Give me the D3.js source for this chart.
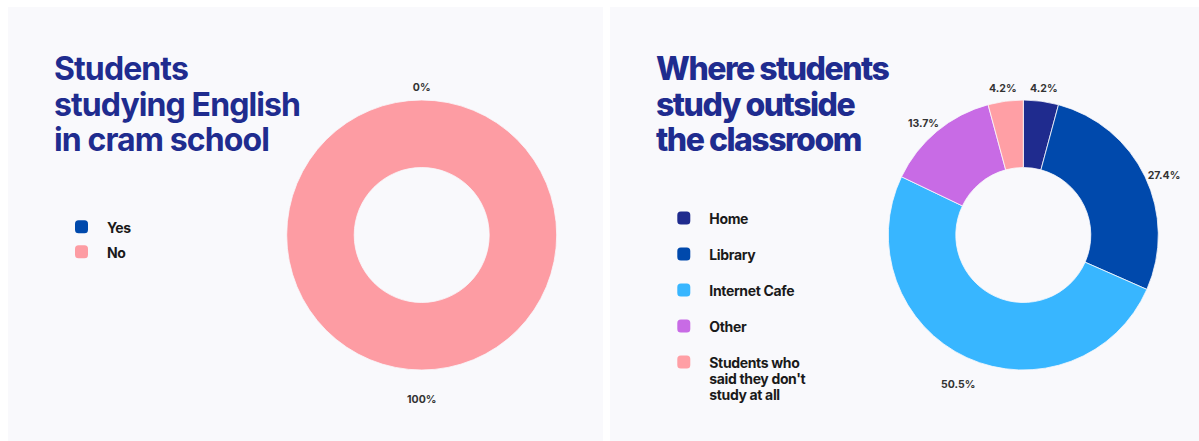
<!DOCTYPE html>
<html>
<head>
<meta charset="utf-8">
<script src="https://cdn.jsdelivr.net/npm/d3@7"></script>
<style>
  html, body { margin: 0; padding: 0; background: #ffffff; }
  svg { display: block; }
</style>
</head>
<body>
<svg id="chart" width="1199" height="441"></svg>
<script>
// Survey results: cram school attendance
const cramCategories = ["Yes", "No"];
const cramValues = [0, 100];
const cramColors = ["#0049ac", "#fd9ca3"];
const cramTitle = ["Students", "studying English", "in cram school"];

// Survey results: study location outside class
const placeCategories = ["Home", "Library", "Internet Cafe", "Other", "Students who said they don't study at all"];
const placeLegendLines = [["Home"], ["Library"], ["Internet Cafe"], ["Other"], ["Students who", "said they don't", "study at all"]];
const placeValues = [4.2, 27.4, 50.5, 13.7, 4.2];
const placeColors = ["#1f2b8e", "#0049ac", "#38b6ff", "#c86be5", "#ff9fa5"];
const placeTitle = ["Where students", "study outside", "the classroom"];

const svg = d3.select("#chart");
const W = 1199, H = 441;

const panels = [
  {
    x: 8, w: 595,
    title: cramTitle, titleWeight: 700, titleSpacing: -0.9,
    cats: cramCategories, lines: cramCategories.map(d => [d]), values: cramValues, colors: cramColors,
    legendX: 75, legendY: 226.7, legendStep: 25,
    cx: 421.7, fmt: v => d3.format(".0f")(v) + "%"
  },
  {
    x: 610, w: 589,
    title: placeTitle, titleWeight: 800, titleSpacing: -1.5,
    cats: placeCategories, lines: placeLegendLines, values: placeValues, colors: placeColors,
    legendX: 677.3, legendY: 218, legendStep: 36,
    cx: 1023.3, fmt: v => d3.format(".1f")(v) + "%"
  }
];

const outerR = 135, innerR = 67.5, labelR = 156, cy = 235;

panels.forEach(p => {
  const g = svg.append("g");

  g.append("rect")
    .attr("x", p.x).attr("y", 7)
    .attr("width", p.w).attr("height", H - 7)
    .attr("fill", "#f9f9fc");

  // Title
  const title = g.append("text")
    .attr("x", p.x + 46)
    .attr("y", 80)
    .attr("font-family", "Inter, 'Noto Sans', sans-serif")
    .attr("font-weight", p.titleWeight)
    .attr("font-size", 32)
    .attr("letter-spacing", p.titleSpacing)
    .attr("fill", "#1f2c8f");
  title.selectAll("tspan")
    .data(p.title)
    .join("tspan")
    .attr("x", p.x + 46)
    .attr("dy", (d, i) => i === 0 ? 0 : 35.5)
    .text(d => d);

  // Legend
  const leg = g.append("g");
  const items = leg.selectAll("g")
    .data(p.cats.map((c, i) => ({ c, i })))
    .join("g")
    .attr("transform", d => `translate(${p.legendX},${p.legendY + d.i * p.legendStep})`);
  items.append("rect")
    .attr("x", 0).attr("y", -6.5)
    .attr("width", 13).attr("height", 13)
    .attr("rx", 3.5)
    .attr("fill", d => p.colors[d.i]);
  const lt = items.append("text")
    .attr("x", 32)
    .attr("y", 0)
    .attr("dominant-baseline", "central")
    .attr("font-family", "Inter, 'Noto Sans', sans-serif")
    .attr("font-weight", 700)
    .attr("font-size", 14)
    .attr("letter-spacing", -0.35)
    .attr("fill", "#1a1a1a");
  lt.selectAll("tspan")
    .data(d => p.lines[d.i])
    .join("tspan")
    .attr("x", 32)
    .attr("dy", (d, i) => i === 0 ? 0 : 16.2)
    .text(d => d);

  // Donut
  const pie = d3.pie().sort(null).value(d => d)(p.values);
  const arc = d3.arc().innerRadius(innerR).outerRadius(outerR);
  const labelArc = d3.arc().innerRadius(labelR).outerRadius(labelR);

  const dg = g.append("g").attr("transform", `translate(${p.cx},${cy})`);
  dg.selectAll("path")
    .data(pie)
    .join("path")
    .attr("d", arc)
    .attr("fill", (d, i) => p.colors[i])
    .attr("stroke", d => d.value > 0 ? "#f9f9fc" : "none")
    .attr("stroke-width", 0.8);

  dg.selectAll("text")
    .data(pie)
    .join("text")
    .attr("transform", d => {
      const [x, y] = labelArc.centroid(d);
      return `translate(${x},${y + 8})`;
    })
    .attr("text-anchor", "middle")
    .attr("dominant-baseline", "central")
    .attr("font-family", "Inter, 'Noto Sans', sans-serif")
    .attr("font-weight", 700)
    .attr("font-size", 10.5)
    .attr("fill", "#333333")
    .text(d => p.fmt(d.value));
});
</script>
</body>
</html>
